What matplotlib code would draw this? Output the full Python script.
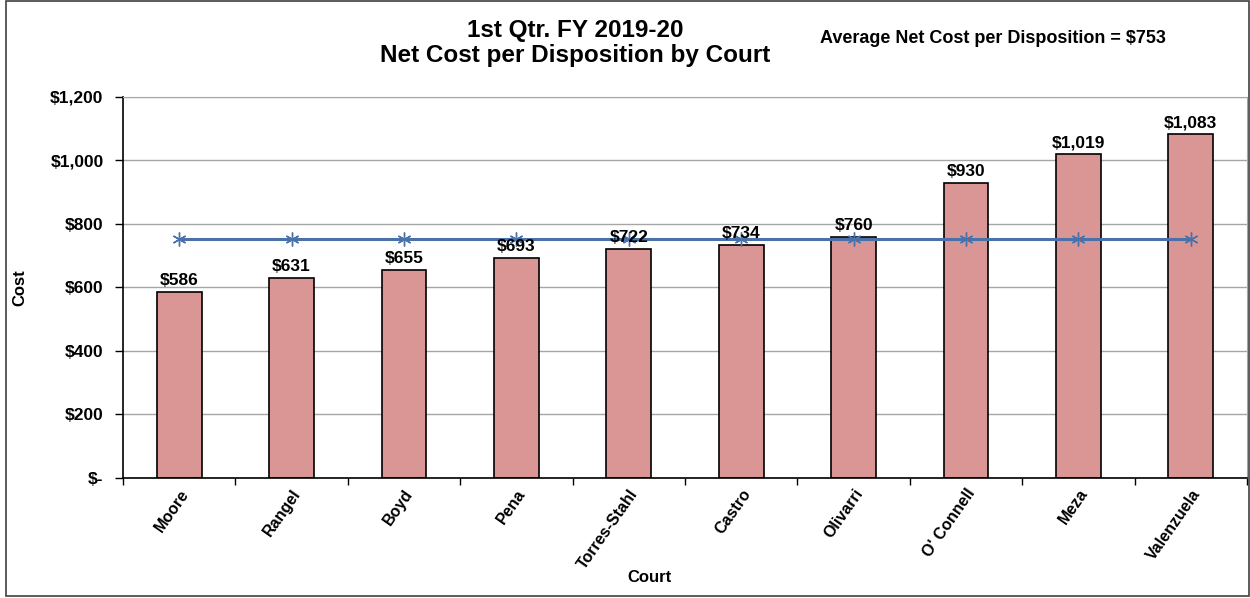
import matplotlib.pyplot as plt
from matplotlib.patches import Rectangle
from matplotlib.ticker import FuncFormatter

courts = ['Moore', 'Rangel', 'Boyd', 'Pena', 'Torres-Stahl', 'Castro',
          'Olivarri', "O' Connell", 'Meza', 'Valenzuela']
costs = [586, 631, 655, 693, 722, 734, 760, 930, 1019, 1083]
average = [753] * len(courts)
avg_value = 753

plt.rcParams['font.family'] = ['Liberation Sans', 'DejaVu Sans']

fig = plt.figure(figsize=(12.5, 5.98), dpi=100)
ax = fig.add_axes([0.0984, 0.2007, 0.8992, 0.6371])

x = range(len(courts))
ax.bar(x, costs, width=0.4, color='#D99694', edgecolor='black', linewidth=1.2, zorder=2)
ax.plot(x, average, color='#4A72A8', linewidth=2.2, marker=(6, 2, 0),
        markersize=10, markeredgewidth=1.0, zorder=3)

for i, v in enumerate(costs):
    ax.text(i, v + 12, f'${v:,}', ha='center', va='bottom',
            fontsize=12.5, fontweight='bold')

ax.set_xlim(-0.5, len(courts) - 0.5)
ax.set_ylim(0, 1200)
ax.set_yticks(range(0, 1201, 200))
ax.yaxis.set_major_formatter(FuncFormatter(lambda v, p: '$-' if v == 0 else f'${v:,.0f}'))
ax.grid(axis='y', color='#A6A6A6', linewidth=1, zorder=0)
ax.set_axisbelow(True)

ax.set_xticks([i - 0.5 for i in range(len(courts) + 1)], minor=False)
ax.set_xticklabels([])
ax.set_xticks(list(x), minor=True)
ax.set_xticklabels(courts, minor=True, rotation=55, ha='right', rotation_mode='anchor',
                   fontsize=11.5, fontweight='bold')
ax.tick_params(axis='x', which='minor', length=0, pad=6)
ax.tick_params(axis='x', which='major', length=5, direction='out', width=1)
ax.tick_params(axis='y', length=6, width=1, pad=8)
for lab in ax.get_yticklabels():
    lab.set_fontweight('bold')
    lab.set_fontsize(12.5)

for side in ['top', 'right']:
    ax.spines[side].set_color('#A6A6A6')
ax.spines['left'].set_linewidth(1.2)
ax.spines['bottom'].set_linewidth(1.2)

ax.set_ylabel('Cost', fontsize=12, fontweight='bold')
ax.yaxis.set_label_coords(-0.085, 0.5)
fig.text(0.52, 0.035, 'Court', ha='center', va='center', fontsize=12, fontweight='bold')

fig.text(0.46, 0.928, '1st Qtr. FY 2019-20\nNet Cost per Disposition by Court',
         ha='center', va='center', fontsize=17.5, fontweight='bold', linespacing=1.15)
fig.text(0.7945, 0.935, f'Average Net Cost per Disposition = ${avg_value}',
         ha='center', va='center', fontsize=13, fontweight='bold')

fig.patches.append(Rectangle((0.005, 0.003), 0.994, 0.995, transform=fig.transFigure,
                             fill=False, edgecolor='#404040', linewidth=1.2))

plt.savefig('out.png', dpi=100, facecolor='white')
